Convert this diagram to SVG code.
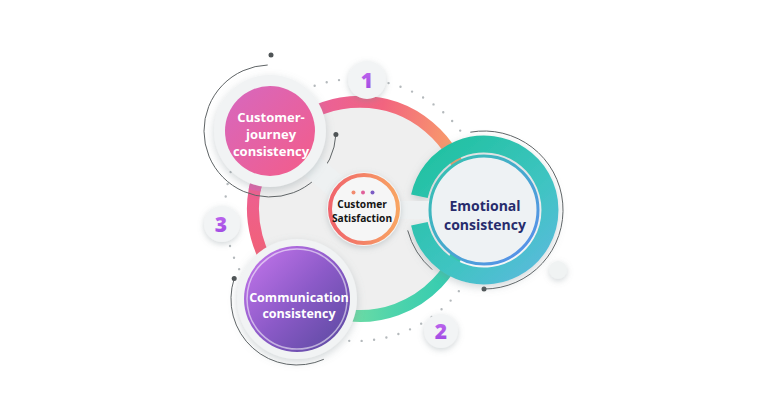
<svg xmlns="http://www.w3.org/2000/svg" width="768" height="412" viewBox="0 0 768 412">
<defs>
<filter id="sh" x="-40%" y="-40%" width="180%" height="180%"><feDropShadow dx="0" dy="3" stdDeviation="4" flood-color="#7d8c90" flood-opacity="0.35"/></filter>
<filter id="shs" x="-60%" y="-60%" width="220%" height="220%"><feDropShadow dx="0" dy="2" stdDeviation="3" flood-color="#7d8c90" flood-opacity="0.35"/></filter>
<linearGradient id="gTop" gradientUnits="userSpaceOnUse" x1="260" y1="120" x2="465" y2="170"><stop offset="0" stop-color="#e35fae"/><stop offset="0.55" stop-color="#f2647f"/><stop offset="1" stop-color="#f9aa66"/></linearGradient>
<linearGradient id="gLeft" gradientUnits="userSpaceOnUse" x1="0" y1="170" x2="0" y2="295"><stop offset="0" stop-color="#ec5f97"/><stop offset="1" stop-color="#f4626a"/></linearGradient>
<linearGradient id="gBot" gradientUnits="userSpaceOnUse" x1="320" y1="0" x2="465" y2="0"><stop offset="0" stop-color="#86e2a0"/><stop offset="0.5" stop-color="#4fd4ab"/><stop offset="1" stop-color="#2ec9b2"/></linearGradient>
<linearGradient id="gPink" x1="0" y1="0" x2="1" y2="1"><stop offset="0" stop-color="#d668c0"/><stop offset="1" stop-color="#f45c88"/></linearGradient>
<linearGradient id="gPurple" x1="0" y1="0" x2="1" y2="1"><stop offset="0" stop-color="#c877ee"/><stop offset="0.5" stop-color="#8c5ac8"/><stop offset="1" stop-color="#56489d"/></linearGradient>
<linearGradient id="gTeal" gradientUnits="userSpaceOnUse" x1="425" y1="145" x2="545" y2="280"><stop offset="0" stop-color="#1fc19f"/><stop offset="0.6" stop-color="#3fc4c2"/><stop offset="1" stop-color="#5cb9de"/></linearGradient>
<linearGradient id="gInner" x1="0" y1="0" x2="1" y2="1"><stop offset="0" stop-color="#33c6ad"/><stop offset="1" stop-color="#5a8bf0"/></linearGradient>
<linearGradient id="gCenter" x1="0" y1="0" x2="1" y2="0"><stop offset="0" stop-color="#f0646c"/><stop offset="1" stop-color="#f8a462"/></linearGradient>
<linearGradient id="gNum" x1="0" y1="0" x2="0" y2="1"><stop offset="0" stop-color="#c46cf0"/><stop offset="1" stop-color="#9a45e0"/></linearGradient>
<style>
.ring{fill:none;stroke-width:12;stroke-linecap:butt}
.thin{fill:none;stroke:#5f6466;stroke-width:1}
.dot{fill:#4f5456}
.halo{fill:#f1f3f4}
.neck{stroke:#eef1f2;stroke-linecap:round}
.badge{fill:#f2f4f5}
.num{font-family:"Open Sans","Liberation Sans",sans-serif;font-weight:800;font-size:21px;fill:url(#gNum);text-anchor:middle}
.wt{font-family:"Open Sans","Liberation Sans",sans-serif;font-weight:700;fill:#ffffff;text-anchor:middle}
.ct{font-family:"Open Sans","Liberation Sans",sans-serif;font-weight:700;font-size:10.2px;fill:#141414;text-anchor:middle}
.et{font-family:"Open Sans","Liberation Sans",sans-serif;font-weight:700;font-size:14px;fill:#272c6c;text-anchor:middle}
</style>
</defs>
<rect width="768" height="412" fill="#ffffff"/>
<!-- dotted orbit -->
<circle cx="356" cy="210" r="131" fill="none" stroke="#b4b9bc" stroke-width="2.4" stroke-linecap="round" stroke-dasharray="0 12.5"/>
<circle cx="271" cy="55" r="2.5" class="dot"/>
<circle cx="558" cy="270" r="9" fill="#f0f3f3" filter="url(#shs)"/>
<!-- main ring -->
<g id="main-ring">
<circle cx="360" cy="209" r="106" fill="#efefef"/>
<path class="ring" stroke="url(#gLeft)" d="M291.2,291 A107,107 0 0 1 259.5,172.4"/>
<path class="ring" stroke="url(#gBot)" d="M460.5,245.6 A107,107 0 0 1 306.5,301.7"/>
<path class="ring" stroke="url(#gTop)" d="M254.6,190.4 A107,107 0 0 1 465.4,190.4"/>
</g>
<g id="connectors">
<path class="thin" d="M335.9,134.5 A66,66 0 1 1 267.7,65"/>
<circle cx="335.9" cy="134.5" r="2.5" class="dot"/>
<path class="thin" d="M470.3,132.2 A79,79 0 1 1 484,289"/>
<circle cx="484" cy="289" r="2.5" class="dot"/>
<path class="thin" d="M432.2,269.6 A79,79 0 0 1 407.7,230.4"/>
<path class="thin" d="M323.8,359.3 A66,66 0 0 1 234.2,278.6"/>
<circle cx="234.2" cy="278.6" r="2.5" class="dot"/>
<line class="neck" x1="290" y1="148" x2="350" y2="198" stroke-width="24"/>
</g>
<!-- customer journey -->
<g id="node-customer-journey">
<circle cx="270" cy="131" r="56" class="halo" filter="url(#sh)"/>
<circle cx="270" cy="131" r="45" fill="url(#gPink)"/>
<text class="wt" font-size="13" x="271" y="121.5">Customer-</text>
<text class="wt" font-size="13" x="271" y="139">journey</text>
<text class="wt" font-size="13" x="271" y="155.5">consistency</text>
</g>
<!-- emotional -->
<g id="node-emotional">
<path d="M419.4,196.3 A66,66 0 1 1 419.4,223.7" fill="none" stroke="url(#gTeal)" stroke-width="17" stroke-linecap="butt" filter="url(#sh)"/>
<path d="M392,201 L432,201 L432,219 L392,219 Z" fill="#eef1f2"/>
<circle cx="484" cy="210" r="54" fill="#eef2f4" stroke="url(#gInner)" stroke-width="3"/>
<text class="et" x="485" y="211">Emotional</text>
<text class="et" x="485" y="230">consistency</text>
</g>
<!-- center -->
<g id="node-center">
<circle cx="364" cy="209" r="37" fill="#f4f5f5" filter="url(#shs)"/>
<circle cx="364" cy="209" r="34" fill="#f6f6f6" stroke="url(#gCenter)" stroke-width="4"/>
<circle cx="353.5" cy="192.5" r="2" fill="#f28a6e"/>
<circle cx="363" cy="192.5" r="2" fill="#e0609a"/>
<circle cx="372.5" cy="192.5" r="2" fill="#7c5cc4"/>
<text class="ct" x="362" y="208">Customer</text>
<text class="ct" x="362" y="221.5">Satisfaction</text>
</g>
<!-- communication -->
<g id="node-communication">
<circle cx="297" cy="299" r="60" class="halo" filter="url(#sh)"/>
<circle cx="297" cy="299" r="53" fill="url(#gPurple)"/>
<circle cx="297" cy="299" r="50" fill="none" stroke="#ffffff" stroke-opacity="0.55" stroke-width="1.5"/>
<text class="wt" font-size="12.5" x="299" y="301.5">Communication</text>
<text class="wt" font-size="12.5" x="299" y="317.5">consistency</text>
</g>
<!-- badges -->
<g id="badge-1"><circle cx="367" cy="80" r="19" class="badge" filter="url(#shs)"/><text class="num" x="367" y="88">1</text></g>
<g id="badge-2"><circle cx="441" cy="331" r="17" class="badge" filter="url(#shs)"/><text class="num" x="441" y="339">2</text></g>
<g id="badge-3"><circle cx="222" cy="224" r="18" class="badge" filter="url(#shs)"/><text class="num" x="221" y="232">3</text></g>
</svg>
